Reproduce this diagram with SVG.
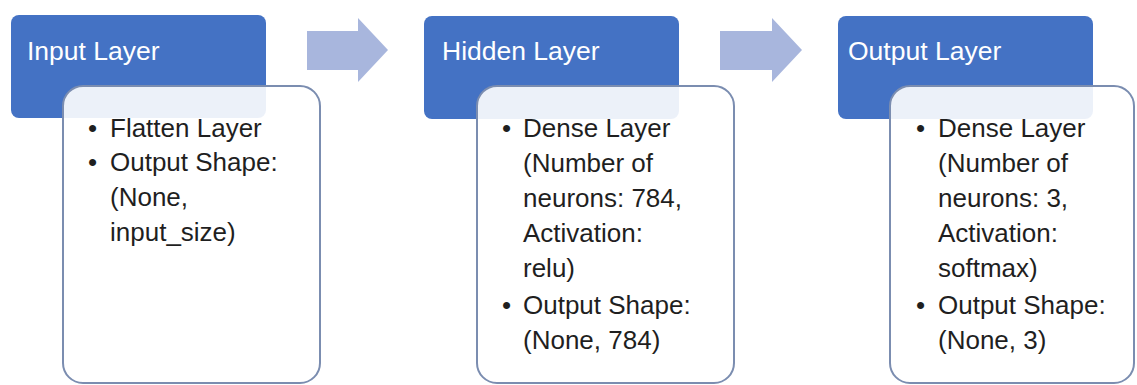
<svg xmlns="http://www.w3.org/2000/svg" width="1137" height="385" viewBox="0 0 1137 385">
  <style>
    .head { fill: #4472C4; }
    .card { fill: #ffffff; fill-opacity: 0.9; stroke: #7b8db0; stroke-width: 2; }
    .title { font-family: "Liberation Sans", Arial, sans-serif; font-size: 26.5px; fill: #ffffff; }
    .body { font-family: "Liberation Sans", Arial, sans-serif; font-size: 26px; fill: #1f1f1f; }
    .flow { fill: #A8B6DD; }
  </style>
  <rect width="1137" height="385" fill="#ffffff"/>

  <!-- flow arrows between stages -->
  <g id="connectors">
    <polygon class="flow" points="307,31 358,31 358,18 388,50 358,82 358,70 307,70"/>
    <polygon class="flow" points="720,31 772,31 772,18 802,50 772,82 772,70 720,70"/>
  </g>

  <!-- stage 1 -->
  <g id="input-layer">
    <rect class="head" x="11" y="15" width="255" height="103" rx="8"/>
    <text class="title" x="27" y="60">Input Layer</text>
    <rect class="card" x="63" y="86" width="257" height="297" rx="20"/>
    <text class="body">
      <tspan x="88" y="137">•</tspan><tspan x="110" y="137">Flatten Layer</tspan>
      <tspan x="88" y="171">•</tspan><tspan x="110" y="171">Output Shape:</tspan>
      <tspan x="110" y="206">(None,</tspan>
      <tspan x="110" y="241">input_size)</tspan>
    </text>
  </g>

  <!-- stage 2 -->
  <g id="hidden-layer">
    <rect class="head" x="424" y="16" width="255" height="103" rx="8"/>
    <text class="title" x="442" y="60">Hidden Layer</text>
    <rect class="card" x="477" y="86" width="257" height="297" rx="20"/>
    <text class="body">
      <tspan x="502" y="137">•</tspan><tspan x="523" y="137">Dense Layer</tspan>
      <tspan x="523" y="172">(Number of</tspan>
      <tspan x="523" y="207">neurons: 784,</tspan>
      <tspan x="523" y="242">Activation:</tspan>
      <tspan x="523" y="277">relu)</tspan>
      <tspan x="502" y="314">•</tspan><tspan x="523" y="314">Output Shape:</tspan>
      <tspan x="523" y="349">(None, 784)</tspan>
    </text>
  </g>

  <!-- stage 3 -->
  <g id="output-layer">
    <rect class="head" x="838" y="16" width="255" height="103" rx="8"/>
    <text class="title" x="848" y="60">Output Layer</text>
    <rect class="card" x="890" y="86" width="244" height="297" rx="20"/>
    <text class="body">
      <tspan x="916" y="137">•</tspan><tspan x="938" y="137">Dense Layer</tspan>
      <tspan x="938" y="172">(Number of</tspan>
      <tspan x="938" y="207">neurons: 3,</tspan>
      <tspan x="938" y="242">Activation:</tspan>
      <tspan x="938" y="277">softmax)</tspan>
      <tspan x="916" y="314">•</tspan><tspan x="938" y="314">Output Shape:</tspan>
      <tspan x="938" y="349">(None, 3)</tspan>
    </text>
  </g>
</svg>
